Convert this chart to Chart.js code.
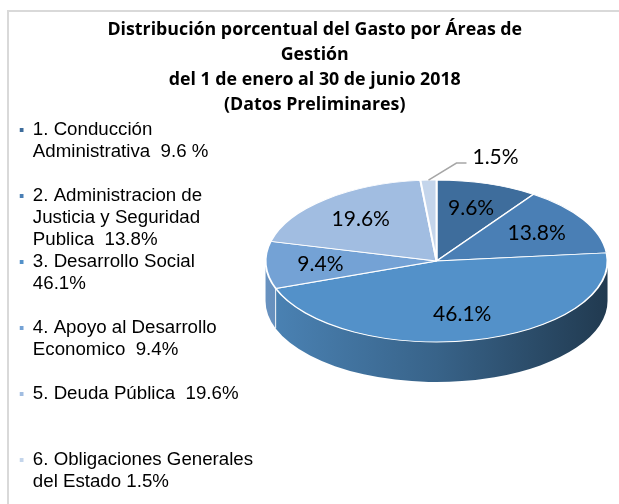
<!DOCTYPE html>
<html><head><meta charset="utf-8">
<script src="https://cdn.jsdelivr.net/npm/chart.js@4.4.1/dist/chart.umd.min.js"></script>
<style>
html,body{margin:0;padding:0;background:#fff;}
#wrap{position:relative;width:619px;height:504px;overflow:hidden;background:#fff;}
#frame{position:absolute;left:7px;top:10px;width:700px;height:600px;border-left:2px solid #d9d9d9;border-top:2px solid #d9d9d9;}
canvas{position:absolute;left:0;top:0;}
</style></head><body>
<div id="wrap"><div id="frame"></div><canvas id="c" width="619" height="504"></canvas></div>
<script>
// ---- data ----
const titleLines = [
  'Distribución porcentual del Gasto por Áreas de',
  'Gestión',
  'del 1 de enero al 30 de junio 2018',
  '(Datos Preliminares)'
];
const categories = [
  '1. Conducción Administrativa',
  '2. Administracion de Justicia y Seguridad Publica',
  '3. Desarrollo Social',
  '4. Apoyo al Desarrollo Economico',
  '5. Deuda Pública',
  '6. Obligaciones Generales del Estado'
];
const legendLines = [
  ['1. Conducción', 'Administrativa  9.6 %'],
  ['2. Administracion de', 'Justicia y Seguridad', 'Publica  13.8%'],
  ['3. Desarrollo Social', '46.1%'],
  ['4. Apoyo al Desarrollo', 'Economico  9.4%'],
  ['5. Deuda Pública  19.6%'],
  ['6. Obligaciones Generales', 'del Estado 1.5%']
];
const values = [9.6, 13.8, 46.1, 9.4, 19.6, 1.5];
const colors = ['#3e6d9c', '#4a7fb5', '#5391c9', '#74a2d5', '#a1bde1', '#c4d5eb'];

// ---- style ----
const TILT = 81 / 171;
const DEPTH = 40;
const FACE_CY = 261;
const LABEL_FRAC = 0.68;

function shade(hex, f) {
  const n = parseInt(hex.slice(1), 16);
  const r = Math.round(((n >> 16) & 255) * f), g = Math.round(((n >> 8) & 255) * f), b = Math.round((n & 255) * f);
  return `rgb(${r},${g},${b})`;
}

const pie3d = {
  id: 'pie3d',
  beforeDatasetsDraw(chart) {
    const ctx = chart.ctx;
    const arcs = chart.getDatasetMeta(0).data;
    if (!arcs.length) return;
    const cx = arcs[0].x, cy = arcs[0].y;
    const R = arcs[0].outerRadius;
    const ry = R * TILT;
    const boundaries = [];
    arcs.forEach((arc, i) => {
      const a1 = Math.max(arc.startAngle, 0), a2 = Math.min(arc.endAngle, Math.PI);
      if (a2 <= a1) return;
      const col = colors[i];
      const g = ctx.createLinearGradient(cx - R, 0, cx + R, 0);
      g.addColorStop(0, shade(col, 0.9));
      g.addColorStop(0.5, shade(col, 0.68));
      g.addColorStop(1, shade(col, 0.4));
      ctx.save();
      ctx.beginPath();
      ctx.ellipse(cx, FACE_CY, R, ry, 0, a1, a2, false);
      ctx.ellipse(cx, FACE_CY + DEPTH, R, ry, 0, a2, a1, true);
      ctx.closePath();
      ctx.fillStyle = g;
      ctx.fill();
      ctx.restore();
      if (a1 > 0) boundaries.push(a1);
    });
    ctx.save();
    ctx.strokeStyle = 'rgba(255,255,255,0.9)';
    ctx.lineWidth = 1;
    boundaries.forEach(a => {
      const x = cx + R * Math.cos(a), y = FACE_CY + ry * Math.sin(a);
      ctx.beginPath(); ctx.moveTo(x, y); ctx.lineTo(x, y + DEPTH); ctx.stroke();
    });
    ctx.restore();
    ctx.save();
    ctx.translate(0, FACE_CY);
    ctx.scale(1, TILT);
    ctx.translate(0, -cy);
  },
  afterDatasetsDraw(chart) {
    const ctx = chart.ctx;
    ctx.restore();
    const arcs = chart.getDatasetMeta(0).data;
    if (!arcs.length) return;
    ctx.save();
    ctx.font = '21px Lato, "Open Sans", sans-serif';
    ctx.fillStyle = '#000';
    arcs.forEach((arc, i) => {
      const R = arc.outerRadius, cx = arc.x;
      const mid = (arc.startAngle + arc.endAngle) / 2;
      const txt = values[i].toFixed(1) + '%';
      if (values[i] < 5) {
        const ex = cx + R * Math.cos(mid), ey = FACE_CY + R * TILT * Math.sin(mid);
        const bx = ex + 28, by = ey - 17;
        ctx.save();
        ctx.strokeStyle = '#a6a6a6';
        ctx.lineWidth = 1.5;
        ctx.beginPath(); ctx.moveTo(ex, ey); ctx.lineTo(bx, by); ctx.lineTo(bx + 10, by); ctx.stroke();
        ctx.restore();
        ctx.textAlign = 'left';
        ctx.textBaseline = 'alphabetic';
        ctx.fillText(txt, bx + 16, by + 1);
      } else {
        const x = cx + R * LABEL_FRAC * Math.cos(mid);
        const y = FACE_CY + R * LABEL_FRAC * TILT * Math.sin(mid);
        ctx.textAlign = 'center';
        ctx.textBaseline = 'middle';
        ctx.fillText(txt, x, y);
      }
    });
    ctx.restore();
  }
};

new Chart(document.getElementById('c'), {
  type: 'pie',
  data: {
    labels: categories,
    datasets: [{
      data: values,
      backgroundColor: colors,
      borderColor: '#ffffff',
      borderWidth: 2,
      radius: 171,
      clip: false
    }]
  },
  options: {
    responsive: false,
    devicePixelRatio: 1,
    animation: false,
    events: [],
    layout: { padding: { top: 10, left: 19.5, right: 9, bottom: 0 } },
    plugins: {
      tooltip: { enabled: false },
      title: {
        display: true,
        text: titleLines,
        color: '#000',
        font: { family: '"Open Sans", Lato, sans-serif', size: 17.8, weight: 'bold', lineHeight: 25 / 17.8 },
        padding: { top: 7.5, bottom: 3.15 }
      },
      legend: {
        display: true,
        position: 'left',
        align: 'start',
        fullSize: false,
        labels: {
          boxWidth: 4,
          boxHeight: 4,
          padding: 0,
          color: '#000',
          font: { family: '"Liberation Sans", Arial, sans-serif', size: 18.7, lineHeight: 22 / 18.7 },
          generateLabels() {
            return categories.map((c, i) => {
              const lines = legendLines[i].slice();
              if (i < categories.length - 1) while (lines.length < 3) lines.push('');
              return { text: lines, fillStyle: colors[i], strokeStyle: colors[i], lineWidth: 0, hidden: false, index: i, fontColor: '#000' };
            });
          }
        }
      }
    }
  },
  plugins: [pie3d]
});
</script>
</body></html>
